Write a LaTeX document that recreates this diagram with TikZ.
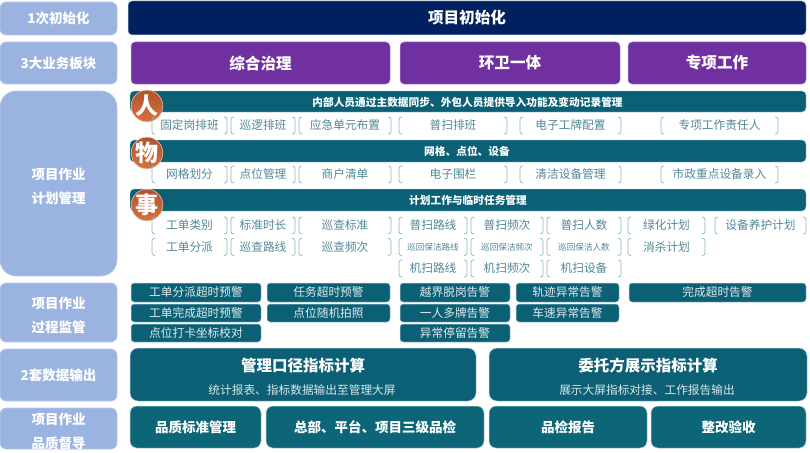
\documentclass[tikz,border=0pt]{standalone}
\usepackage{fontspec}
\setmainfont{Noto Sans CJK SC}
\usetikzlibrary{calc}
\definecolor{lab}{HTML}{9BB3E0}
\definecolor{navy}{HTML}{002060}
\definecolor{purp}{HTML}{7030A0}
\definecolor{teal1}{HTML}{0B6075}
\definecolor{teal2}{HTML}{0D6678}
\definecolor{edge1}{HTML}{B8D2DA}
\definecolor{brk}{HTML}{8DB5BF}
\definecolor{brktxt}{HTML}{4F8795}
\definecolor{circA}{HTML}{B0522B}
\definecolor{circB}{HTML}{D8713F}
\tikzset{
  basebox/.style={rectangle,inner sep=0pt,outer sep=0pt,align=center,text=white},
  labelbox/.style={basebox,fill=lab,draw=lab!70!white,line width=.6pt,rounded corners=6pt,font=\fontsize{13.5}{24}\selectfont\bfseries},
  bigbox/.style={basebox,fill=lab,draw=lab!70!white,line width=.6pt,rounded corners=16pt,font=\fontsize{13.5}{24}\selectfont\bfseries},
  navybox/.style={basebox,fill=navy,draw=edge1,line width=.5pt,rounded corners=4pt,font=\fontsize{15.6}{18}\selectfont\bfseries},
  purpbox/.style={basebox,fill=purp,draw=purp!50!white,line width=.5pt,rounded corners=4pt,font=\fontsize{15.6}{18}\selectfont\bfseries},
  barbox/.style={basebox,fill=teal1,draw=edge1,line width=.4pt,rounded corners=4pt},
  bartext/.style={inner sep=0pt,text=white,font=\fontsize{10.7}{13}\selectfont\bfseries},
  alertbox/.style={basebox,fill=teal1,draw=edge1,line width=.5pt,rounded corners=3pt,font=\fontsize{11.7}{14}\selectfont,text=white!88!teal1},
  outbox/.style={basebox,fill=teal1,draw=edge1,line width=.5pt,rounded corners=8pt},
  outtitle/.style={inner sep=0pt,text=white,font=\fontsize{15.5}{18}\selectfont\bfseries},
  outsub/.style={inner sep=0pt,text=white!85!teal1,font=\fontsize{11.7}{14}\selectfont},
  qualbox/.style={basebox,fill=teal2,draw=edge1,line width=.5pt,rounded corners=7pt,font=\fontsize{13.5}{16}\selectfont\bfseries},
  badge/.style={circle,minimum size=29pt,inner sep=0pt,outer sep=0pt,top color=circA,bottom color=circB,draw=circB!45!white,line width=.6pt,text=white,font=\fontsize{23}{24}\selectfont\bfseries},
  itemnode/.style={rectangle,inner sep=0pt,outer sep=0pt,text=brktxt,font=\fontsize{11.7}{14}\selectfont},
  itemsmall/.style={itemnode,font=\fontsize{8.6}{10}\selectfont},
  brkline/.style={draw=brk,line width=.7pt,rounded corners=2.5pt}
}
% box: style, name, x1, y1, x2, y2, text
\newcommand{\bx}[7]{%
  \pgfmathsetmacro{\cxx}{(#3+#5)/2}\pgfmathsetmacro{\cyy}{(#4+#6)/2}%
  \pgfmathsetmacro{\wdd}{#5-#3}\pgfmathsetmacro{\htt}{#6-#4}%
  \node[#1,minimum width=\wdd pt,minimum height=\htt pt] (#2) at (\cxx,\cyy) {#7};}
% bracket item: style, name, x1, x2, yc, text
\newcommand{\bk}[6]{%
  \pgfmathsetmacro{\cxx}{(#3+#4)/2}\pgfmathsetmacro{\wdd}{#4-#3}%
  \node[#1,minimum width=\wdd pt,minimum height=17pt] (#2) at (\cxx,#5) {#6};
  \draw[brkline] ($(#2.north west)+(3,0)$) -- (#2.north west) -- (#2.south west) -- ($(#2.south west)+(3,0)$);
  \draw[brkline] ($(#2.north east)+(-3,0)$) -- (#2.north east) -- (#2.south east) -- ($(#2.south east)+(-3,0)$);}
\newcommand{\lw}[1]{\raisebox{-2.5pt}[\height][\depth]{#1}}
\begin{document}
\begin{tikzpicture}[x=1pt,y=-1pt]
\useasboundingbox (0,0) rectangle (810,452);
% left labels
\bx{labelbox}{la}{0}{2}{117}{35}{1次初始化}
\bx{labelbox}{lb}{0}{42}{117}{84}{3大业务板块}
\bx{bigbox}{lc}{0}{91}{117}{276}{\lw{项目作业}\\\lw{计划管理}}
\bx{labelbox}{ld}{0}{283}{117}{342}{\lw{项目作业}\\\lw{过程监管}}
\bx{labelbox}{le}{0}{349}{117}{401}{2套数据输出}
\bx{labelbox}{lf}{0}{408}{117}{449}{\lw{项目作业}\\\lw{品质督导}}
% top
\bx{navybox}{init}{128}{1}{806}{35}{项目初始化}
\bx{purpbox}{pa}{131}{42}{390}{84}{综合治理}
\bx{purpbox}{pb}{400}{42}{620}{84}{环卫一体}
\bx{purpbox}{pc}{628}{42}{806}{84}{专项工作}
% bars
\bx{barbox}{ba}{130}{91}{806}{112}{}
\bx{barbox}{bb}{130}{140}{806}{162}{}
\bx{barbox}{bc}{130}{189}{806}{211}{}
\node[bartext] (tba) at (467.5,102) {内部人员通过主数据同步、外包人员提供导入功能及变动记录管理};
\node[bartext] (tbb) at (467,151) {网格、点位、设备};
\node[bartext] (tbc) at (468,200) {计划工作与临时任务管理};
\node[badge] (ca) at (147,106) {人};
\node[badge] (cb) at (147,153) {物};
\node[badge] (cc) at (147,205) {事};
% row 1
\bk{itemnode}{ra1}{152}{227}{125.5}{固定岗排班}
\bk{itemnode}{ra2}{231}{295}{125.5}{巡逻排班}
\bk{itemnode}{ra3}{299}{391}{125.5}{应急单元布置}
\bk{itemnode}{ra4}{399}{507}{125.5}{普扫排班}
\bk{itemnode}{ra5}{520}{621}{125.5}{电子工牌配置}
\bk{itemnode}{ra6}{661}{778}{125.5}{专项工作责任人}
% row 2
\bk{itemnode}{rb1}{152}{227}{174.5}{网格划分}
\bk{itemnode}{rb2}{231}{295}{174.5}{点位管理}
\bk{itemnode}{rb3}{299}{391}{174.5}{商户清单}
\bk{itemnode}{rb4}{399}{507}{174.5}{电子围栏}
\bk{itemnode}{rb5}{520}{621}{174.5}{清洁设备管理}
\bk{itemnode}{rb6}{661}{778}{174.5}{市政重点设备录入}
% row 3
\bk{itemnode}{rc1}{152}{227}{225.5}{工单类别}
\bk{itemnode}{rc2}{231}{295}{225.5}{标准时长}
\bk{itemnode}{rc3}{299}{391}{225.5}{巡查标准}
\bk{itemnode}{rc4}{399}{467}{225.5}{普扫路线}
\bk{itemnode}{rc5}{471}{543}{225.5}{普扫频次}
\bk{itemnode}{rc6}{547}{621}{225.5}{普扫人数}
\bk{itemnode}{rc7}{628}{705}{225.5}{绿化计划}
\bk{itemnode}{rc8}{715}{806}{225.5}{设备养护计划}
% row 4
\bk{itemnode}{rd1}{152}{227}{247}{工单分派}
\bk{itemnode}{rd2}{231}{295}{247}{巡查路线}
\bk{itemnode}{rd3}{299}{391}{247}{巡查频次}
\bk{itemsmall}{rd4}{399}{467}{247}{巡回保洁路线}
\bk{itemsmall}{rd5}{471}{543}{247}{巡回保洁频次}
\bk{itemsmall}{rd6}{547}{621}{247}{巡回保洁人数}
\bk{itemnode}{rd7}{628}{705}{247}{消杀计划}
% row 5
\bk{itemnode}{re4}{399}{467}{268.5}{机扫路线}
\bk{itemnode}{re5}{471}{543}{268.5}{机扫频次}
\bk{itemnode}{re6}{547}{621}{268.5}{机扫设备}
% alerts
\bx{alertbox}{a1}{131}{283}{261}{302}{工单分派超时预警}
\bx{alertbox}{a2}{131}{304}{261}{322}{工单完成超时预警}
\bx{alertbox}{a3}{131}{324}{261}{342}{点位打卡坐标校对}
\bx{alertbox}{a4}{267}{283}{390}{302}{任务超时预警}
\bx{alertbox}{a5}{267}{304}{390}{322}{点位随机拍照}
\bx{alertbox}{a6}{400}{283}{510}{302}{越界脱岗告警}
\bx{alertbox}{a7}{400}{304}{510}{322}{一人多牌告警}
\bx{alertbox}{a8}{400}{324}{510}{342}{异常停留告警}
\bx{alertbox}{a9}{516}{283}{619}{302}{轨迹异常告警}
\bx{alertbox}{a10}{516}{304}{619}{322}{车速异常告警}
\bx{alertbox}{a11}{629}{283}{806}{302}{完成超时告警}
% outputs
\bx{outbox}{oa}{130}{348}{476}{401}{}
\bx{outbox}{ob}{489}{348}{807}{401}{}
\node[outtitle] (oat) at (303,366) {管理口径指标计算};
\node[outsub] (oas) at (302,390) {统计报表、指标数据输出至管理大屏};
\node[outtitle] (obt) at (648,366) {委托方展示指标计算};
\node[outsub] (obs) at (647,390) {展示大屏指标对接、工作报告输出};
% quality
\bx{qualbox}{q1}{130}{406}{261}{448}{品质标准管理}
\bx{qualbox}{q2}{266}{406}{484}{448}{总部、平台、项目三级品检}
\bx{qualbox}{q3}{489}{406}{647}{448}{品检报告}
\bx{qualbox}{q4}{651}{406}{806}{448}{整改验收}
\end{tikzpicture}
\end{document}
